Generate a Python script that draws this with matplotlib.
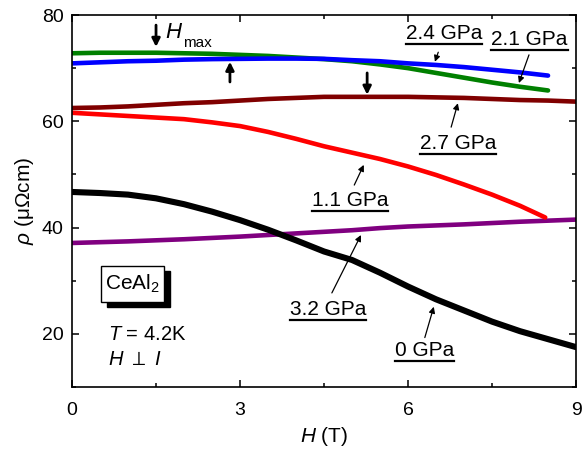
import numpy as np
import matplotlib; matplotlib.use('Agg')
import matplotlib.pyplot as plt
from matplotlib.lines import Line2D
from matplotlib.patches import Rectangle

plt.rcParams['font.family'] = ['Liberation Sans', 'DejaVu Sans']
plt.rcParams['mathtext.fontset'] = 'custom'
plt.rcParams['mathtext.rm'] = 'Liberation Sans'
plt.rcParams['mathtext.it'] = 'Liberation Sans:italic'

# resistivity (uOhm cm) vs field (T)
h0 = [0, 0.5, 1, 1.5, 2, 2.5, 3, 3.5, 4, 4.5, 5, 5.5, 6, 6.5, 7, 7.5, 8, 8.5, 9]
rho_0GPa = [46.7, 46.5, 46.2, 45.5, 44.4, 43.0, 41.4, 39.6, 37.6, 35.5, 33.9, 31.5, 28.9, 26.5, 24.4, 22.3, 20.5, 19.0, 17.5]
h32 = [0, 1, 2, 3, 4, 4.5, 5, 5.5, 6, 7, 8, 9]
rho_32GPa = [37.1, 37.4, 37.8, 38.3, 38.9, 39.2, 39.5, 39.9, 40.2, 40.6, 41.1, 41.5]
h11 = [0, 0.5, 1, 1.5, 2, 2.5, 3, 3.5, 4, 4.5, 5, 5.5, 6, 6.5, 7, 7.5, 8, 8.45]
rho_11GPa = [61.6, 61.3, 61.0, 60.7, 60.4, 59.8, 59.1, 58.0, 56.7, 55.3, 54.1, 52.9, 51.5, 49.9, 48.1, 46.2, 44.1, 41.9]
h21 = [0, 0.5, 1, 1.5, 2, 2.5, 3, 3.5, 4, 4.5, 5, 5.5, 6, 6.5, 7, 7.5, 8, 8.5]
rho_21GPa = [72.8, 72.9, 72.9, 72.9, 72.8, 72.7, 72.5, 72.3, 72.0, 71.7, 71.3, 70.7, 70.0, 69.1, 68.2, 67.3, 66.5, 65.8]
rho_24GPa = [70.9, 71.1, 71.3, 71.4, 71.6, 71.7, 71.75, 71.8, 71.8, 71.75, 71.5, 71.3, 70.9, 70.6, 70.2, 69.7, 69.2, 68.6]
h27 = [0, 0.5, 1, 1.5, 2, 2.5, 3, 3.5, 4, 4.5, 5, 5.5, 6, 6.5, 7, 7.5, 8, 8.5, 9]
rho_27GPa = [62.5, 62.6, 62.8, 63.1, 63.4, 63.6, 63.9, 64.2, 64.4, 64.6, 64.6, 64.6, 64.6, 64.5, 64.4, 64.2, 64.0, 63.9, 63.7]

fig = plt.figure(figsize=(5.87, 4.55), dpi=100)
ax = fig.add_axes([0.1227, 0.1495, 0.8586, 0.8175])

kw = dict(solid_capstyle='round', solid_joinstyle='round')
ax.plot(h32, rho_32GPa, color='#800080', lw=3.3, **kw)
ax.plot(h0, rho_0GPa, color='black', lw=4.4, **kw)
ax.plot(h27, rho_27GPa, color='#800000', lw=3.3, **kw)
ax.plot(h11, rho_11GPa, color='#ff0000', lw=3.3, **kw)
ax.plot(h21, rho_21GPa, color='#008000', lw=3.3, **kw)
ax.plot(h21, rho_24GPa, color='#0000ff', lw=3.3, **kw)

ax.set_xlim(0, 9); ax.set_ylim(10, 80)
ax.set_xticks([0, 3, 6, 9]); ax.set_xticks([1.5, 4.5, 7.5], minor=True)
ax.set_yticks([20, 40, 60, 80]); ax.set_yticks([10, 30, 50, 70], minor=True)
ax.tick_params(which='both', direction='in', top=True, right=True, width=1.1, labelsize=14, pad=6)
ax.tick_params(axis='x', which='major', pad=11)
ax.tick_params(which='major', length=5)
ax.tick_params(which='minor', length=3)
for s in ax.spines.values(): s.set_linewidth(1.2)
ax.set_xlabel(r'$H$ (T)', fontsize=15, labelpad=4)
ax.set_ylabel(r'$\rho$ (μΩcm)', fontsize=15, labelpad=4)

# pressure labels + thin arrows
labels = [('2.4 GPa', (6.64, 76.6), (6.54, 73.0), (6.48, 71.2)),
          ('2.1 GPa', (8.17, 75.3), (8.16, 72.5), (7.98, 67.2)),
          ('2.7 GPa', (6.89, 55.9), (6.77, 58.9), (6.89, 63.4)),
          ('1.1 GPa', (4.96, 45.0), (5.04, 48.0), (5.21, 51.8)),
          ('3.2 GPa', (4.57, 24.5), (4.64, 27.7), (5.16, 38.6)),
          ('0 GPa', (6.30, 16.8), (6.30, 19.3), (6.46, 25.1))]
txts = []
for s, pos, a0, a1 in labels:
    txts.append(ax.text(pos[0], pos[1], s, fontsize=15, ha='center', va='center'))
    ax.annotate('', xy=a1, xytext=a0,
                arrowprops=dict(arrowstyle='-|>', lw=0.9, color='k', mutation_scale=9, shrinkA=0, shrinkB=0))

# H_max arrows
for x, y0, y1 in [(1.5, 78.1, 74.0), (2.82, 67.4, 71.2), (5.27, 69.1, 65.0)]:
    ax.annotate('', xy=(x, y1), xytext=(x, y0),
                arrowprops=dict(arrowstyle='-|>', lw=2, color='k', mutation_scale=12, shrinkA=0, shrinkB=0))
ax.text(1.66, 75.7, '$H$', fontsize=16, va='baseline')
ax.text(1.98, 74.0, 'max', fontsize=11, va='baseline')

# sample box with shadow
ax.add_patch(Rectangle((0.625, 25.1), 1.125, 6.8, facecolor='black', edgecolor='black', zorder=4))
ax.add_patch(Rectangle((0.518, 26.05), 1.125, 6.77, facecolor='white', edgecolor='black', lw=1, zorder=5))
ax.text(1.07, 29.5, r'CeAl$_2$', fontsize=15, ha='center', va='center', zorder=6)
ax.text(0.64, 19.85, r'$T$ = 4.2K', fontsize=14.5, va='center')
ax.text(0.64, 15.15, r'$H$ $\perp$ $I$', fontsize=14.5, va='center')

fig.canvas.draw()
inv = fig.transFigure.inverted()
for t in txts:
    bb = t.get_window_extent()
    (x0, y0), (x1, _) = inv.transform([(bb.x0, bb.y0 - 1), (bb.x1, bb.y0)])
    fig.add_artist(Line2D([x0, x1], [y0, y0], color='k', lw=1.6))

fig.savefig('out.png', dpi=100)
